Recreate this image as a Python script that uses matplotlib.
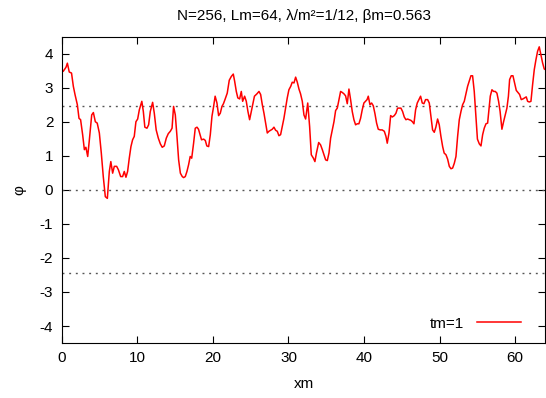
import numpy as np
import matplotlib
matplotlib.use("Agg")
import matplotlib.pyplot as plt

plt.rcParams['font.family'] = ['Liberation Sans', 'DejaVu Sans']
plt.rcParams['axes.unicode_minus'] = False

# field profile at tm=1 (N=256 sites, Lm=64)
xm = [0.0, 0.2, 0.57, 0.75, 1.0, 1.3, 1.54, 1.76, 2.07, 2.29, 2.5, 2.77, 3.0, 3.2, 3.44,
      3.66, 3.97, 4.19, 4.45, 4.7, 4.98, 5.24, 5.5, 5.77, 6.04, 6.3, 6.5, 6.74, 6.96, 7.27,
      7.5, 7.8, 8.06, 8.28, 8.5, 8.72, 8.94, 9.16, 9.38, 9.6, 9.82, 10.05, 10.27, 10.6, 10.8,
      11.0, 11.28, 11.5, 11.72, 12.03, 12.25, 12.5, 12.78, 13.05, 13.3, 13.57, 13.84, 14.1,
      14.37, 14.6, 14.8, 15.03, 15.25, 15.47, 15.7, 15.95, 16.13, 16.35, 16.57, 16.79, 17.0,
      17.2, 17.45, 17.67, 17.9, 18.1, 18.3, 18.5, 18.78, 19.0, 19.2, 19.44, 19.66, 19.88,
      20.1, 20.3, 20.54, 20.76, 20.98, 21.2, 21.4, 21.6, 21.9, 22.17, 22.44, 22.7, 22.88,
      23.1, 23.3, 23.54, 23.76, 23.94, 24.2, 24.42, 24.64, 24.86, 25.08, 25.3, 25.5, 25.83,
      26.1, 26.32, 26.54, 26.76, 26.98, 27.2, 27.42, 27.64, 27.86, 28.08, 28.3, 28.52, 28.74,
      28.96, 29.18, 29.4, 29.62, 29.84, 30.06, 30.3, 30.5, 30.73, 30.95, 31.17, 31.39, 31.6,
      31.83, 32.05, 32.27, 32.55, 32.8, 33.02, 33.3, 33.5, 33.7, 34.0, 34.25, 34.48, 34.7,
      34.92, 35.14, 35.36, 35.58, 35.8, 36.02, 36.24, 36.46, 36.68, 36.9, 37.12, 37.34, 37.56,
      37.78, 38.0, 38.22, 38.44, 38.66, 38.88, 39.1, 39.32, 39.54, 39.76, 39.98, 40.2, 40.4,
      40.56, 40.78, 41.0, 41.22, 41.44, 41.66, 41.88, 42.15, 42.4, 42.68, 42.9, 43.07, 43.3,
      43.52, 43.74, 44.0, 44.22, 44.44, 44.66, 44.88, 45.1, 45.32, 45.54, 45.76, 45.98, 46.2,
      46.4, 46.6, 46.82, 47.04, 47.26, 47.48, 47.7, 47.92, 48.14, 48.41, 48.63, 48.85, 49.07,
      49.29, 49.5, 49.73, 49.95, 50.17, 50.4, 50.6, 50.84, 51.06, 51.28, 51.5, 51.72, 51.94,
      52.16, 52.38, 52.6, 52.82, 53.04, 53.26, 53.48, 53.7, 53.92, 54.14, 54.36, 54.58, 54.8,
      55.0, 55.25, 55.47, 55.69, 55.9, 56.13, 56.35, 56.55, 56.7, 56.92, 57.14, 57.36, 57.58,
      57.8, 58.0, 58.24, 58.46, 58.68, 58.9, 59.1, 59.26, 59.48, 59.7, 59.92, 60.14, 60.36,
      60.58, 60.8, 61.02, 61.24, 61.46, 61.64, 61.86, 62.08, 62.3, 62.52, 62.74, 62.96, 63.18,
      63.4, 63.62, 63.84, 64.0]
phi = [3.55, 3.48, 3.6, 3.72, 3.46, 3.43, 3.04, 2.8, 2.5, 2.1, 2.06, 1.62, 1.18, 1.25, 0.98,
       1.47, 2.2, 2.27, 2.0, 1.96, 1.67, 1.08, 0.39, -0.2, -0.25, 0.54, 0.83, 0.49, 0.69, 0.69,
       0.59, 0.39, 0.39, 0.54, 0.37, 0.54, 0.93, 1.27, 1.47, 1.57, 2.0, 2.08, 2.35, 2.6, 2.3,
       1.84, 1.81, 1.91, 2.3, 2.57, 2.25, 1.76, 1.52, 1.35, 1.25, 1.29, 1.52, 1.65,
       1.72, 1.81, 2.45, 2.2, 1.57, 0.88, 0.49, 0.39, 0.36, 0.39, 0.54, 0.74, 0.98,
       0.93, 1.37, 1.81, 1.84, 1.78, 1.62, 1.47, 1.49, 1.45, 1.29, 1.27, 1.62, 2.16,
       2.45, 2.75, 2.55, 2.18, 2.25, 2.45, 2.53, 2.65, 2.84, 3.22, 3.33, 3.4, 3.19,
       2.89, 2.7, 2.67, 2.89, 2.6, 2.75, 2.6, 2.3, 2.06, 2.3, 2.55, 2.75, 2.82,
       2.89, 2.8, 2.5, 2.25, 1.96, 1.67, 1.72, 1.75, 1.78, 1.84, 1.75, 1.72, 1.59,
       1.62, 1.86, 2.1, 2.4, 2.7, 2.94, 3.04, 3.16, 3.14, 3.31, 3.16, 2.96, 2.82,
       2.6, 2.2, 2.08, 2.55, 1.86, 1.03, 0.93, 0.83, 1.08, 1.39, 1.32, 1.18, 1.03,
       0.88, 0.86, 1.08, 1.52, 1.76, 2.0, 2.33, 2.4, 2.65, 2.89, 2.86, 2.82, 2.76,
       2.53, 2.96, 2.65, 2.3, 2.06, 1.91, 1.94, 1.94, 2.1, 2.35, 2.55, 2.6, 2.65,
       2.75, 2.5, 2.55, 2.47, 2.24, 1.96, 1.78, 1.76, 1.76, 1.72, 1.57, 1.37, 1.67,
       2.18, 2.14, 2.18, 2.25, 2.4, 2.4, 2.4, 2.3, 2.14, 2.06, 2.08, 2.06, 2.04,
       2.0, 1.94, 2.35, 2.55, 2.65, 2.75, 2.55, 2.53, 2.65, 2.65, 2.55, 2.16, 1.76,
       1.69, 1.84, 2.08, 1.91, 1.57, 1.27, 1.08, 1.03, 0.9, 0.69, 0.62, 0.64, 0.78,
       0.98, 1.57, 2.06, 2.3, 2.5, 2.6, 2.82, 3.04, 3.19, 3.35, 3.35, 2.89, 2.16,
       1.49, 1.35, 1.29, 1.62, 1.81, 1.94, 1.96, 2.4, 2.75, 2.94, 2.89, 2.89, 2.84,
       2.6, 2.3, 1.78, 2.0, 2.2, 2.4, 2.75, 3.24, 3.35, 3.35, 3.14, 2.92, 2.86,
       2.8, 2.65, 2.67, 2.7, 2.73, 2.6, 2.58, 2.6, 3.09, 3.53, 3.82, 4.07, 4.2,
       3.97, 3.73, 3.55, 3.53]

# vacuum values of the field, +/- sqrt(6)
vac = np.sqrt(6.0)
fs = 11

fig = plt.figure(figsize=(5.46, 3.98), dpi=100)
ax = fig.add_axes([0.113, 0.138, 0.886, 0.770])

dot = dict(color='#555555', linewidth=1.0, linestyle=(0, (1.4, 3.4)))
for yv in (vac, 0.0, -vac):
    ax.axhline(yv, **dot)

ax.plot(xm, phi, color='#ff0000', linewidth=1.1, label='tm=1')

ax.set_xlim(0, 64)
ax.set_ylim(-4.5, 4.5)
ax.set_xticks(np.arange(0, 61, 10))
ax.set_yticks(np.arange(-4, 5, 1))
ax.tick_params(direction='in', top=True, right=True, length=5, width=0.8,
               labelsize=fs, pad=6)
for s in ax.spines.values():
    s.set_linewidth(0.8)

ax.set_xlabel('xm', fontsize=fs, labelpad=8)
ax.set_ylabel('φ', fontsize=fs, labelpad=10)
ax.set_title('N=256, Lm=64, λ/m²=1/12, βm=0.563', fontsize=fs, pad=12)

ax.legend(loc='lower right', bbox_to_anchor=(1.0, -0.039), frameon=False,
          fontsize=fs, handlelength=2.9, handletextpad=0.8, borderaxespad=1.2,
          markerfirst=False)

fig.savefig('out.png', dpi=100)
